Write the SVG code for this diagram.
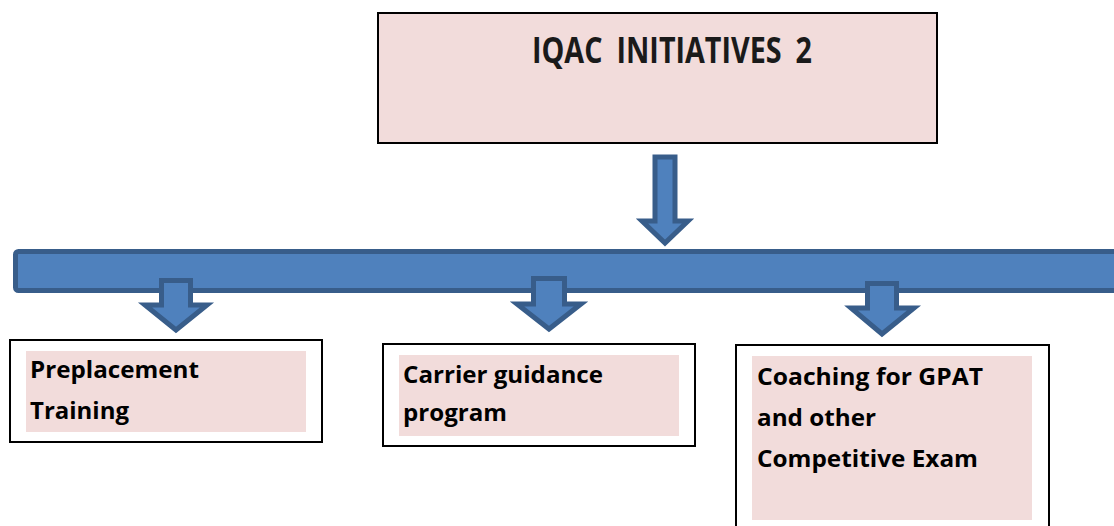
<svg xmlns="http://www.w3.org/2000/svg" width="1114" height="526" viewBox="0 0 1114 526">
<style>
.box{fill:#FFFFFF;stroke:#000000;stroke-width:2}
.pink{fill:#F2DCDB;stroke:none}
.title{fill:#F2DCDB;stroke:#000000;stroke-width:2}
.arr{fill:#4F81BD;stroke:#385D8A;stroke-width:5;stroke-linejoin:miter}
.t{font-family:"Open Sans","Liberation Sans",sans-serif;font-weight:700;font-size:23px;fill:#000000}
.tt{font-family:"Open Sans","Liberation Sans",sans-serif;font-weight:700;font-size:35px;fill:#1a1a1a;word-spacing:8px}
</style>
<rect width="1114" height="526" fill="#FFFFFF"/>
<g id="title-node">
<rect class="title" x="378" y="13" width="559" height="130"/>
<text class="tt" x="532" y="63" textLength="280" lengthAdjust="spacingAndGlyphs">IQAC INITIATIVES 2</text>
</g>
<g id="connectors">
<path class="arr" d="M655,157 H675 V221 H688 L665,243 L642,221 H655 Z"/>
<rect class="arr" x="15.5" y="251.5" width="1110" height="39" rx="3"/>
<path class="arr" d="M161.5,280.5 H190.5 V305 H207 L176,330 L145,305 H161.5 Z"/>
<path class="arr" d="M533.5,278.5 H564.5 V304 H581 L549,329 L517,304 H533.5 Z"/>
<path class="arr" d="M867.5,283.5 H896.5 V308 H914 L882,334 L851,308 H867.5 Z"/>
</g>
<g id="node-preplacement">
<rect class="box" x="10" y="340" width="312" height="102"/>
<rect class="pink" x="26" y="351" width="280" height="81"/>
<text class="t" x="30" y="378" textLength="169" lengthAdjust="spacingAndGlyphs">Preplacement</text>
<text class="t" x="30" y="419" textLength="99" lengthAdjust="spacingAndGlyphs">Training</text>
</g>
<g id="node-carrier">
<rect class="box" x="383" y="344" width="312" height="102"/>
<rect class="pink" x="399" y="355" width="280" height="81"/>
<text class="t" x="403" y="383" textLength="200" lengthAdjust="spacingAndGlyphs">Carrier guidance</text>
<text class="t" x="403" y="421" textLength="104" lengthAdjust="spacingAndGlyphs">program</text>
</g>
<g id="node-coaching">
<rect class="box" x="736" y="345" width="313" height="200"/>
<rect class="pink" x="752" y="356" width="280" height="164"/>
<text class="t" x="757" y="385" textLength="226" lengthAdjust="spacingAndGlyphs">Coaching for GPAT</text>
<text class="t" x="757" y="426" textLength="119" lengthAdjust="spacingAndGlyphs">and other</text>
<text class="t" x="757" y="467" textLength="221" lengthAdjust="spacingAndGlyphs">Competitive Exam</text>
</g>
</svg>
